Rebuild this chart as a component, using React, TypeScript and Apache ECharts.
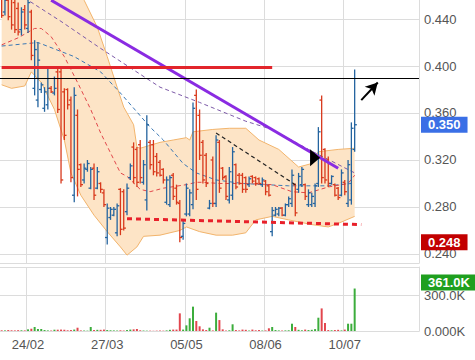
import React, { useEffect, useRef } from 'react';
import * as echarts from 'echarts';

const slotCount = 127;
const tickIndex = [8, 32, 56, 80, 104];
const tickLabels = ['24/02', '27/03', '05/05', '08/06', '10/07'];

const opens = [
  0.460, 0.446, 0.456, 0.458, 0.454, 0.449, 0.431, 0.448, 0.432, 0.446,
  0.381, 0.371, 0.380, 0.364, 0.367, 0.381, 0.377, 0.395, 0.395, 0.378,
  0.380, 0.371, 0.290, 0.358, 0.316, 0.303, 0.312, 0.296, 0.313, 0.296,
  0.300, 0.292, 0.254, 0.271, 0.273, 0.258, 0.295, 0.293, 0.276, 0.305,
  0.331, 0.329, 0.333, 0.301, 0.286, 0.335, 0.333, 0.323, 0.318, 0.312,
  0.284, 0.282, 0.307, 0.296, 0.283, 0.255, 0.274, 0.274, 0.282, 0.375,
  0.358, 0.335, 0.324, 0.279, 0.320, 0.283, 0.335, 0.313, 0.306, 0.286,
  0.290, 0.316, 0.307, 0.307, 0.305, 0.299, 0.306, 0.305, 0.304, 0.299,
  0.302, 0.298, 0.259, 0.273, 0.274, 0.279, 0.273, 0.282, 0.283, 0.299,
  0.295, 0.299, 0.299, 0.282, 0.282, 0.283, 0.300, 0.371, 0.329, 0.320,
  0.300, 0.299, 0.296, 0.290, 0.301, 0.283, 0.286, 0.329,
];
const closes = [
  0.443, 0.456, 0.442, 0.435, 0.431, 0.429, 0.446, 0.435, 0.454, 0.409,
  0.414, 0.405, 0.384, 0.378, 0.381, 0.378, 0.381, 0.363, 0.303, 0.341,
  0.367, 0.305, 0.375, 0.312, 0.299, 0.313, 0.317, 0.312, 0.290, 0.310,
  0.295, 0.282, 0.279, 0.278, 0.278, 0.281, 0.261, 0.262, 0.296, 0.315,
  0.305, 0.301, 0.305, 0.316, 0.350, 0.316, 0.310, 0.309, 0.307, 0.303,
  0.303, 0.305, 0.289, 0.284, 0.254, 0.266, 0.296, 0.292, 0.364, 0.295,
  0.324, 0.303, 0.300, 0.283, 0.283, 0.337, 0.296, 0.305, 0.289, 0.310,
  0.327, 0.297, 0.300, 0.295, 0.295, 0.304, 0.302, 0.300, 0.300, 0.303,
  0.293, 0.290, 0.277, 0.278, 0.279, 0.273, 0.282, 0.287, 0.307, 0.275,
  0.306, 0.312, 0.289, 0.292, 0.289, 0.298, 0.344, 0.305, 0.303, 0.300,
  0.306, 0.290, 0.288, 0.309, 0.293, 0.316, 0.347, 0.350,
];
const lows = [
  0.441, 0.443, 0.439, 0.431, 0.428, 0.426, 0.426, 0.431, 0.428, 0.405,
  0.375, 0.365, 0.377, 0.361, 0.363, 0.377, 0.375, 0.360, 0.300, 0.337,
  0.363, 0.301, 0.284, 0.289, 0.297, 0.300, 0.310, 0.295, 0.286, 0.295,
  0.292, 0.280, 0.248, 0.269, 0.272, 0.255, 0.256, 0.260, 0.273, 0.303,
  0.300, 0.297, 0.300, 0.299, 0.277, 0.312, 0.307, 0.306, 0.306, 0.300,
  0.282, 0.280, 0.286, 0.282, 0.250, 0.252, 0.272, 0.272, 0.278, 0.286,
  0.320, 0.300, 0.297, 0.278, 0.280, 0.280, 0.292, 0.303, 0.286, 0.283,
  0.286, 0.295, 0.299, 0.292, 0.292, 0.297, 0.300, 0.298, 0.299, 0.297,
  0.290, 0.289, 0.255, 0.272, 0.272, 0.272, 0.272, 0.280, 0.280, 0.272,
  0.292, 0.297, 0.286, 0.280, 0.280, 0.280, 0.297, 0.300, 0.300, 0.297,
  0.299, 0.289, 0.286, 0.289, 0.290, 0.280, 0.282, 0.327,
];
const highs = [
  0.465, 0.460, 0.463, 0.465, 0.460, 0.454, 0.450, 0.452, 0.459, 0.448,
  0.422, 0.420, 0.386, 0.382, 0.399, 0.383, 0.391, 0.398, 0.398, 0.381,
  0.381, 0.374, 0.382, 0.363, 0.317, 0.317, 0.320, 0.314, 0.317, 0.314,
  0.301, 0.295, 0.283, 0.280, 0.280, 0.283, 0.296, 0.295, 0.300, 0.317,
  0.335, 0.331, 0.337, 0.320, 0.358, 0.337, 0.337, 0.326, 0.320, 0.313,
  0.306, 0.307, 0.309, 0.299, 0.286, 0.269, 0.300, 0.295, 0.369, 0.380,
  0.363, 0.337, 0.326, 0.286, 0.323, 0.341, 0.337, 0.314, 0.307, 0.314,
  0.331, 0.317, 0.309, 0.309, 0.306, 0.306, 0.307, 0.306, 0.305, 0.305,
  0.303, 0.299, 0.280, 0.280, 0.280, 0.280, 0.283, 0.289, 0.312, 0.300,
  0.309, 0.314, 0.300, 0.295, 0.292, 0.300, 0.348, 0.375, 0.330, 0.323,
  0.307, 0.300, 0.297, 0.312, 0.303, 0.320, 0.352, 0.397,
];
// volume in thousands
const volumes = [
  6, 5, 8, 6, 5, 7, 6, 5, 14, 20,
  34, 17, 17, 8, 5, 4, 11, 11, 12, 10,
  6, 8, 12, 28, 5, 4, 3, 34, 8, 10,
  10, 12, 8, 6, 5, 4, 6, 4, 8, 12,
  14, 17, 6, 4, 3, 3, 2, 3, 4, 3,
  5, 10, 12, 12, 150, 12, 48, 108, 207, 85,
  40, 14, 8, 28, 5, 156, 93, 14, 4, 6,
  57, 8, 5, 12, 10, 4, 12, 6, 8, 4,
  5, 23, 34, 8, 5, 4, 5, 6, 62, 34,
  10, 6, 12, 8, 10, 16, 113, 192, 68, 8,
  6, 8, 10, 5, 12, 62, 62, 361,
];

const maShort = [[0, 0.418], [5, 0.424], [10, 0.432], [12, 0.432], [15, 0.425], [19, 0.408], [23, 0.386], [27, 0.363], [30, 0.343], [33, 0.326], [36, 0.309], [38, 0.306], [42, 0.295], [45, 0.293], [49, 0.296], [56, 0.299], [59, 0.301], [61, 0.301], [66, 0.300], [74, 0.300], [82, 0.299], [88, 0.293], [93, 0.292], [99, 0.297], [105, 0.300], [107, 0.307]];
const maMid = [[0, 0.417], [11, 0.420], [22, 0.408], [30, 0.395], [36, 0.377], [45, 0.348], [49, 0.337], [55, 0.317], [59, 0.309], [65, 0.303], [73, 0.300], [87, 0.298], [99, 0.298], [106, 0.300]];
const maLong = [[0, 0.472], [8, 0.456], [18, 0.438], [30, 0.415], [48, 0.382], [60, 0.369], [74, 0.353], [82, 0.346], [93, 0.329], [107, 0.309]];
const bandUpper = [[0, 0.50], [12, 0.49], [20, 0.475], [25, 0.456], [29, 0.433], [32, 0.408], [35, 0.382], [37, 0.365], [40, 0.350], [41, 0.331], [42, 0.330], [48, 0.335], [52, 0.337], [56, 0.339], [57, 0.337], [58, 0.344], [64, 0.346], [69, 0.347], [74, 0.347], [78, 0.337], [84, 0.329], [90, 0.314], [94, 0.317], [96, 0.327], [102, 0.329], [107, 0.330]];
const bandLower = [[0, 0.384], [3, 0.381], [7, 0.383], [9, 0.395], [12, 0.386], [16, 0.363], [19, 0.337], [21, 0.309], [24, 0.290], [28, 0.273], [32, 0.259], [36, 0.246], [38, 0.239], [41, 0.246], [43, 0.255], [48, 0.256], [54, 0.260], [56, 0.263], [60, 0.259], [65, 0.256], [70, 0.256], [74, 0.258], [77, 0.269], [82, 0.272], [87, 0.269], [94, 0.265], [99, 0.263], [102, 0.266], [107, 0.272]];

const priceTicks = [0.24, 0.28, 0.32, 0.36, 0.40, 0.44];
const volTicks = [0, 300, 544];
const volTickLabels: Record<number, string> = { 0: '0.000K', 300: '300.0K' };

// drawn annotations (data coordinates: [index, price])
const trendPurple = [[15, 0.456], [102, 0.313]];
const resistanceRed = [[-0.5, 0.399], [82, 0.399]];
const lineBlack = 0.3895;
const supportRed = [[38, 0.270], [109, 0.265]];
const trendBlackDashed = [[65, 0.343], [89, 0.299]];
const arrowUp = [[109, 0.371], [114, 0.386]];
const markerTriangle = [95.3, 0.322];
const lastPrice = 0.350;
const lowPrice = 0.248;
const lastVolume = 361;

const FONT = 'Liberation Sans, Arial, sans-serif';
const HIDDEN_LINE = { color: 'rgba(0,0,0,0)', width: 1 };

export default function App() {
  const ref = useRef<HTMLDivElement>(null);
  useEffect(() => {
    document.body.style.margin = '0';
    const chart = echarts.init(ref.current!, undefined, { renderer: 'svg' });
    const categories = Array.from({ length: slotCount }, (_, i) => String(i));
    const isTick = (i: number) => tickIndex.includes(i);
    const ohlc = opens.map((o, i) => [i, o, closes[i], lows[i], highs[i]]);
    const volData = volumes.map((v, i) => ({
      value: v,
      itemStyle: { color: closes[i] >= opens[i] ? '#3cad3c' : '#e2464e' },
    }));
    const badge = (text: string, bg: string, offsetY = 0) => ({
      show: true, position: 'end', distance: 2, formatter: text,
      backgroundColor: bg, color: '#fff', fontSize: 13, fontWeight: 'bold',
      padding: [2, 7, 1, 7], offset: [0, offsetY], fontFamily: FONT,
    });

    const option: any = {
      animation: false,
      textStyle: { fontFamily: FONT },
      grid: [
        { left: 0, right: 56, top: 0, height: 263 },
        { left: 0, right: 56, top: 267, height: 64 },
      ],
      xAxis: [
        {
          type: 'category', gridIndex: 0, data: categories, boundaryGap: true,
          axisLabel: { show: false }, axisTick: { show: false },
          axisLine: { show: true, lineStyle: { color: '#dcdcdc' } },
          splitLine: { show: true, interval: (i: number) => isTick(i), lineStyle: { color: '#dcdcdc' } },
        },
        {
          type: 'category', gridIndex: 1, data: categories, boundaryGap: true,
          axisLabel: {
            show: true, interval: (i: number) => isTick(i),
            formatter: (_v: string, i: number) => tickLabels[tickIndex.indexOf(i)] ?? '',
            color: '#555', fontSize: 13, margin: 7, fontFamily: FONT,
          },
          axisTick: { show: false },
          axisLine: { show: true, lineStyle: { color: '#dcdcdc' } },
          splitLine: { show: true, interval: (i: number) => isTick(i), lineStyle: { color: '#dcdcdc' } },
        },
      ],
      yAxis: [
        {
          type: 'value', gridIndex: 0, position: 'right', min: 0.2323, max: 0.4562,
          axisLabel: {
            customValues: priceTicks, formatter: (v: number) => v.toFixed(3),
            color: '#555', fontSize: 13, margin: 5, padding: [0, 0, 5, 0], fontFamily: FONT,
          },
          axisTick: { show: false, customValues: priceTicks },
          axisLine: { show: true, lineStyle: { color: '#dcdcdc' } },
          splitLine: { show: true, lineStyle: { color: '#dcdcdc' } },
        },
        {
          type: 'value', gridIndex: 1, position: 'right', min: 0, max: 544,
          axisLabel: {
            customValues: volTicks, formatter: (v: number) => volTickLabels[v] ?? '',
            color: '#555', fontSize: 13, margin: 5, padding: [0, 0, 7, 0], fontFamily: FONT,
          },
          axisTick: { show: false, customValues: volTicks },
          axisLine: { show: true, lineStyle: { color: '#dcdcdc' } },
          splitLine: { show: true, lineStyle: { color: '#dcdcdc' } },
        },
      ],
      series: [
        {
          type: 'custom', name: 'band', xAxisIndex: 0, yAxisIndex: 0, clip: true, silent: true, z: 1,
          data: [[0, 0.3]],
          renderItem: (params: any, api: any) => {
            if (params.dataIndex !== 0) return null;
            const pts = bandUpper.map((p) => api.coord(p)).concat(
              bandLower.slice().reverse().map((p) => api.coord(p))
            );
            return { type: 'polygon', shape: { points: pts }, style: { fill: '#fde4c6' } };
          },
        },
        {
          type: 'line', name: 'upper', data: bandUpper, showSymbol: false, symbol: 'none', z: 2, silent: true,
          lineStyle: { color: '#f2b46c', width: 1 },
        },
        {
          type: 'line', name: 'lower', data: bandLower, showSymbol: false, symbol: 'none', z: 2, silent: true,
          lineStyle: { color: '#f2b46c', width: 1 },
        },
        {
          type: 'line', name: 'maLong', data: maLong, symbol: 'none', z: 3, silent: true,
          lineStyle: { color: '#7d5aa8', width: 1, type: [4, 3] },
        },
        {
          type: 'line', name: 'maMid', data: maMid, symbol: 'none', z: 3, silent: true,
          lineStyle: { color: '#3b78b4', width: 1, type: [4, 3] },
        },
        {
          type: 'line', name: 'maShort', data: maShort, symbol: 'none', z: 3, silent: true,
          lineStyle: { color: '#e2474b', width: 1, type: [4, 3] },
        },
        {
          type: 'custom', name: 'ohlc', xAxisIndex: 0, yAxisIndex: 0, clip: true, z: 4,
          data: ohlc,
          encode: { x: 0, y: [1, 2, 3, 4] },
          renderItem: (_params: any, api: any) => {
            const x = api.value(0);
            const o = api.coord([x, api.value(1)]);
            const c = api.coord([x, api.value(2)]);
            const l = api.coord([x, api.value(3)]);
            const h = api.coord([x, api.value(4)]);
            const color = api.value(2) >= api.value(1) ? '#24649f' : '#d8391c';
            const st = { stroke: color, lineWidth: 1.3 };
            return {
              type: 'group',
              children: [
                { type: 'line', shape: { x1: h[0], y1: h[1], x2: l[0], y2: l[1] }, style: st },
                { type: 'line', shape: { x1: o[0] - 2.2, y1: o[1], x2: o[0], y2: o[1] }, style: st },
                { type: 'line', shape: { x1: c[0], y1: c[1], x2: c[0] + 2.2, y2: c[1] }, style: st },
              ],
            };
          },
        },
        {
          type: 'line', name: 'annotations', data: [], symbol: 'none', z: 5, silent: true,
          markLine: {
            silent: true, symbol: ['none', 'none'], label: { show: false },
            data: [
              [{ coord: trendPurple[0], lineStyle: { color: '#8a2be2', width: 3, type: 'solid' } }, { coord: trendPurple[1] }],
              [{ coord: resistanceRed[0], lineStyle: { color: '#e2252b', width: 3, type: 'solid' } }, { coord: resistanceRed[1] }],
              { yAxis: lineBlack, lineStyle: { color: '#000', width: 1, type: 'solid' } },
              [{ coord: supportRed[0], lineStyle: { color: '#e8202a', width: 3, type: [5, 4] } }, { coord: supportRed[1] }],
              [{ coord: trendBlackDashed[0], lineStyle: { color: '#222', width: 1.2, type: [4, 3] } }, { coord: trendBlackDashed[1] }],
              [
                { coord: arrowUp[0], symbol: 'none', lineStyle: { color: '#000', width: 2, type: 'solid' } },
                { coord: arrowUp[1], symbol: 'arrow', symbolSize: [10, 12] },
              ],
            ],
          },
          markPoint: {
            silent: true,
            data: [
              {
                coord: markerTriangle, symbol: 'triangle', symbolSize: [17, 10], symbolRotate: -90,
                itemStyle: { color: '#000' }, label: { show: false },
              },
            ],
          },
        },
        {
          type: 'line', name: 'priceBadges', data: [], symbol: 'none', z: 6, silent: true,
          markLine: {
            silent: true, symbol: ['none', 'none'],
            data: [
              { yAxis: lastPrice, lineStyle: HIDDEN_LINE, label: badge(lastPrice.toFixed(3), '#3a6fe6') },
              { yAxis: lowPrice, lineStyle: HIDDEN_LINE, label: badge(lowPrice.toFixed(3), '#c20000') },
            ],
          },
        },
        {
          type: 'bar', name: 'volume', xAxisIndex: 1, yAxisIndex: 1, data: volData, barWidth: 2,
          markLine: {
            silent: true, symbol: ['none', 'none'],
            data: [
              { yAxis: lastVolume, lineStyle: HIDDEN_LINE, label: badge(lastVolume.toFixed(1) + 'K', '#1f9f1f', -6) },
            ],
          },
        },
      ],
    };
    chart.setOption(option);
    return () => chart.dispose();
  }, []);
  return <div ref={ref} style={{ width: 475, height: 360 }} />;
}
